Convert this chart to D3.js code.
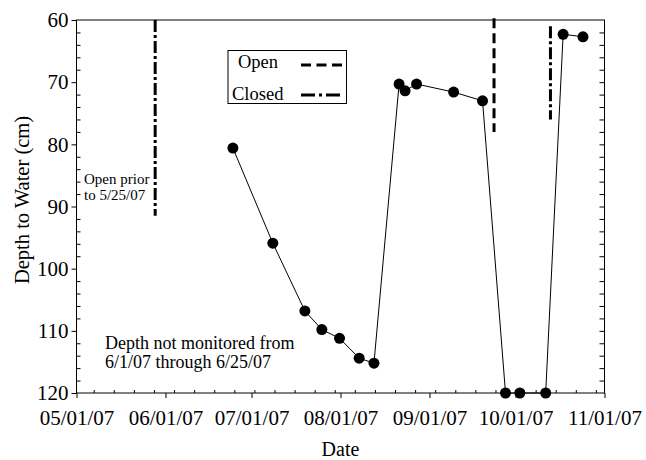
<!DOCTYPE html>
<html><head><meta charset="utf-8">
<script src="https://cdn.jsdelivr.net/npm/d3@7"></script>
<style>body{margin:0;background:#fff}svg{display:block}text{font-family:"Liberation Serif","Times New Roman",serif;fill:#000}</style>
</head><body><svg id="c" width="646" height="460"></svg>
<script>
const dates = ["2007-06-24 12","2007-07-08 10","2007-07-19 14","2007-07-25 12","2007-07-31 16","2007-08-07 12","2007-08-12 16","2007-08-21 10","2007-08-23 12","2007-08-27 12","2007-09-09 10","2007-09-19 12","2007-09-27 12","2007-10-02 12","2007-10-11 12","2007-10-17 14","2007-10-24 12"];
const depths = [80.6,95.9,106.8,109.8,111.2,114.4,115.2,70.3,71.4,70.3,71.6,73.0,120,120,120,62.3,62.7];
const gateDates = ["2007-05-28 10","2007-09-23 12","2007-10-13 04"];
const gateTypes = ["Closed","Open","Closed"];
const gateTop = [60,59.7,61];
const gateBottom = [91.5,78,76];
const xTickLabels = ["05/01/07","06/01/07","07/01/07","08/01/07","09/01/07","10/01/07","11/01/07"];
const yTicks = [60,70,80,90,100,110,120];
const legendItems = ["Open","Closed"];

const parse = d3.timeParse("%Y-%m-%d %H");
const parseTick = d3.timeParse("%m/%d/%y");
const svg = d3.select("#c");
const L=76.5,R=604.5,T=20,B=393;
const x = d3.scaleTime().domain([new Date(2007,4,1),new Date(2007,10,1)]).range([L,R]);
const y = d3.scaleLinear().domain([60,120]).range([T,B]);
const dashFor = t => t==="Open" ? "10,5" : "12,3,3,3";

// frame
svg.append("rect").attr("x",L).attr("y",T).attr("width",R-L).attr("height",B-T).attr("fill","none").attr("stroke","#000").attr("stroke-width",1);

// left axis major (outward)
const gl = svg.append("g").attr("transform",`translate(${L},0)`)
  .call(d3.axisLeft(y).tickValues(yTicks).tickSize(5).tickPadding(3).tickFormat(d3.format("d")));
gl.select(".domain").remove();
gl.selectAll("text").style("font-size","21px").style("font-family","Liberation Serif");
// left minor (inward)
const minorY = d3.range(62,120,2).filter(v=>v%10!==0);
svg.append("g").attr("transform",`translate(${L},0)`).call(d3.axisRight(y).tickValues(minorY).tickSize(4).tickFormat("")).select(".domain").remove();
// right axis (inward)
svg.append("g").attr("transform",`translate(${R},0)`).call(d3.axisLeft(y).tickValues(d3.range(62,120,2)).tickSize(5).tickFormat("")).select(".domain").remove();

// bottom axis major (outward)
const gb = svg.append("g").attr("transform",`translate(0,${B})`)
  .call(d3.axisBottom(x).tickValues(xTickLabels.map(parseTick)).tickSize(5).tickPadding(12).tickFormat(d3.timeFormat("%m/%d/%y")));
gb.select(".domain").remove();
gb.selectAll("text").style("font-size","21px").style("font-family","Liberation Serif");
// bottom minor (inward, Mondays)
svg.append("g").attr("transform",`translate(0,${B})`).call(d3.axisTop(x).ticks(d3.timeMonday.every(1)).tickSize(3).tickFormat("")).select(".domain").remove();

// axis titles
svg.append("text").attr("x",(L+R)/2).attr("y",456).attr("text-anchor","middle").style("font-size","20px").text("Date");
svg.append("text").attr("transform",`translate(29,${200}) rotate(-90)`).attr("text-anchor","middle").style("font-size","20.5px").text("Depth to Water (cm)");

// gate lines
gateDates.forEach((d,i)=>{
  svg.append("line").attr("x1",x(parse(d))).attr("x2",x(parse(d)))
    .attr("y1",y(gateTop[i])).attr("y2",y(gateBottom[i]))
    .attr("stroke","#000").attr("stroke-width",3).attr("stroke-dasharray",dashFor(gateTypes[i]));
});

// data line and points
const pts = dates.map((d,i)=>({t:parse(d),v:depths[i]}));
svg.append("path").datum(pts).attr("fill","none").attr("stroke","#000").attr("stroke-width",1)
  .attr("d",d3.line().x(d=>x(d.t)).y(d=>y(d.v)));
svg.selectAll("circle.p").data(pts).enter().append("circle").attr("class","p")
  .attr("cx",d=>x(d.t)).attr("cy",d=>y(d.v)).attr("r",5.5).attr("fill","#000");

// legend
const lg = svg.append("g");
lg.append("rect").attr("x",228).attr("y",50.5).attr("width",118.5).attr("height",53).attr("fill","#fff").attr("stroke","#000").attr("stroke-width",1);
const legY=[68,100], legX=[238,232], lineY=[65,95];
legendItems.forEach((n,i)=>{
  lg.append("text").attr("x",legX[i]).attr("y",legY[i]).style("font-size","18.5px").text(n);
  lg.append("line").attr("x1",301).attr("x2",342).attr("y1",lineY[i]).attr("y2",lineY[i])
    .attr("stroke","#000").attr("stroke-width",3).attr("stroke-dasharray",n==="Open"?"10,5.5":"14,4,3,4");
});

// annotations
const a1 = svg.append("text").style("font-size","15px");
a1.append("tspan").attr("x",84).attr("y",184).text("Open prior");
a1.append("tspan").attr("x",84).attr("y",200).text("to 5/25/07");
const a2 = svg.append("text").style("font-size","18px");
a2.append("tspan").attr("x",105).attr("y",349).text("Depth not monitored from");
a2.append("tspan").attr("x",105).attr("y",367.5).text("6/1/07 through 6/25/07");
</script></body></html>
